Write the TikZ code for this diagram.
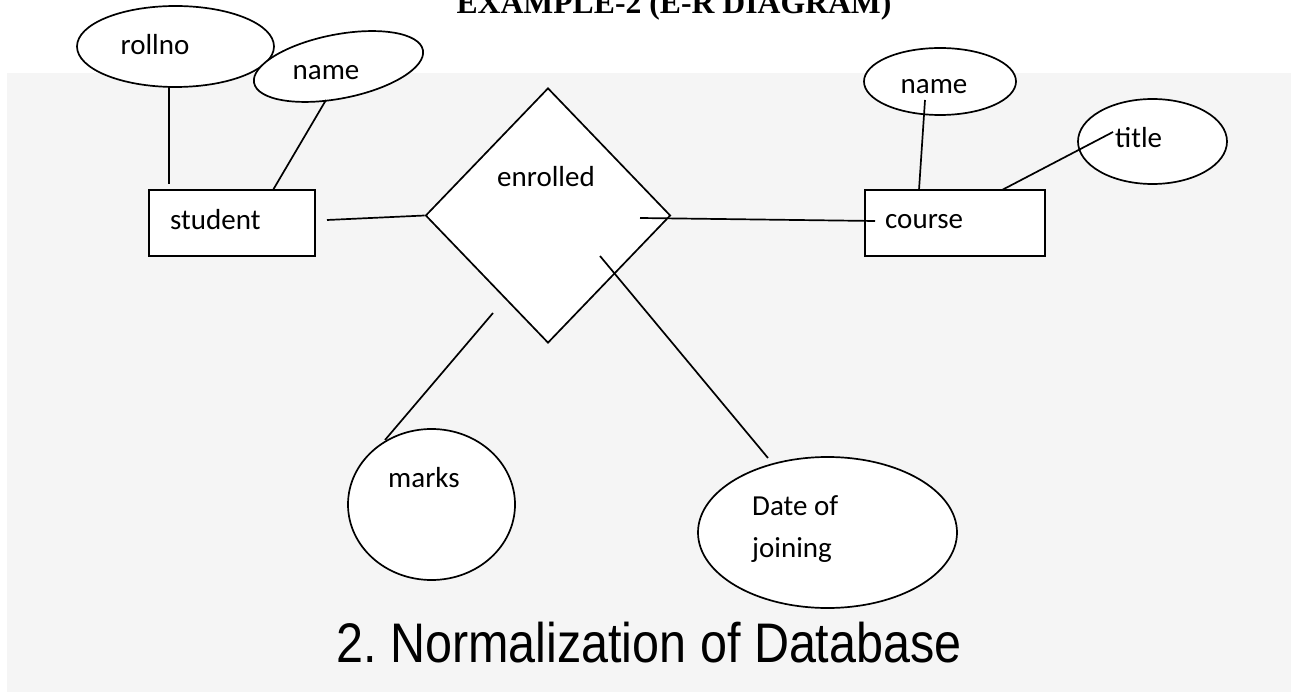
\documentclass[tikz,border=0pt]{standalone}
\usepackage{fontspec}
\setmainfont{Carlito}
\newfontfamily\titlefont{Liberation Serif}
\newfontfamily\headfont{Liberation Sans}
\usetikzlibrary{shapes.geometric}
\definecolor{bggray}{HTML}{F5F5F5}
\frenchspacing
\tikzset{
  shp/.style={draw=black, line width=1.7pt, fill=white, inner sep=0pt},
  attr/.style={shp, ellipse},
  ent/.style={shp, rectangle},
  rel/.style={shp, diamond},
  lbl/.style={font=\fontsize{29}{35}\selectfont, inner sep=0pt},
  conn/.style={draw=black, line width=1.7pt},
}
\begin{document}
\begin{tikzpicture}[x=1pt,y=-1pt]
\useasboundingbox (0,0) rectangle (1291,692);
\fill[bggray] (7,73) rectangle (1291,692);

% title
\node[anchor=base, inner sep=0pt, font=\titlefont\bfseries\fontsize{31.7}{36}\selectfont] (ttl) at (674,14) {EXAMPLE-2 (E-R DIAGRAM)};

% shapes
\node[attr, minimum width=197, minimum height=81] (rollno) at (175.5,46.5) {};
\node[attr, minimum width=172, minimum height=64, rotate=11] (sname) at (338.5,66.5) {};
\node[ent, minimum width=166, minimum height=66] (student) at (232,223) {};
\node[rel, minimum width=245, minimum height=255] (enrolled) at (548,215.5) {};
\node[ent, minimum width=180, minimum height=66] (course) at (955,223) {};
\node[attr, minimum width=152, minimum height=67] (cname) at (940,81.5) {};
\node[attr, minimum width=149, minimum height=85] (ctitle) at (1152.5,141.5) {};
\node[attr, minimum width=167, minimum height=151] (marks) at (431.5,504.5) {};
\node[attr, minimum width=259, minimum height=151] (doj) at (827.5,532.5) {};

% labels
\node[lbl, anchor=base] (rollnoT) at (155,55) {rollno};
\node[lbl, anchor=base] (snameT) at (326,80) {name};
\node[lbl, anchor=base west] (studentT) at (170,230) {student};
\node[lbl, anchor=base] (enrolledT) at (546,187) {enrolled};
\node[lbl, anchor=base west] (courseT) at (885,229) {course};
\node[lbl, anchor=base] (cnameT) at (934,94) {name};
\node[lbl, anchor=base west] (ctitleT) at (1115,148) {title};
\node[lbl, anchor=base west] (marksT) at (388,488) {marks};
\node[lbl, anchor=base west] (dojT1) at (752,515) {Date of};
\node[lbl, anchor=base west] (dojT2) at (752,557) {joining};

% connector end points
\coordinate (r1) at (169,87);
\coordinate (r2) at (169,184);
\coordinate (s1) at (326,100);
\coordinate (s2) at (273,190);
\coordinate (se1) at (327,220);
\coordinate (ec1) at (640,218);
\coordinate (ec2) at (875,221);
\coordinate (cn1) at (925,100);
\coordinate (cn2) at (919,190);
\coordinate (ct1) at (1113,132);
\coordinate (ct2) at (1002,190);
\coordinate (m1) at (493,313);
\coordinate (m2) at (385,440);
\coordinate (d1) at (600,256);
\coordinate (d2) at (768,458);

% connectors
\draw[conn] (r1) -- (r2);
\draw[conn] (s1) -- (s2);
\draw[conn] (se1) -- (enrolled.west);
\draw[conn] (ec1) -- (ec2);
\draw[conn] (cn1) -- (cn2);
\draw[conn] (ct1) -- (ct2);
\draw[conn] (m1) -- (m2);
\draw[conn] (d1) -- (d2);

% bottom heading
\node[anchor=base, inner sep=0pt, font=\headfont\fontsize{48.5}{56}\selectfont] (head) at (649,662) {\scalebox{1}[1.15]{2. Normalization of Database}};
\end{tikzpicture}
\end{document}
